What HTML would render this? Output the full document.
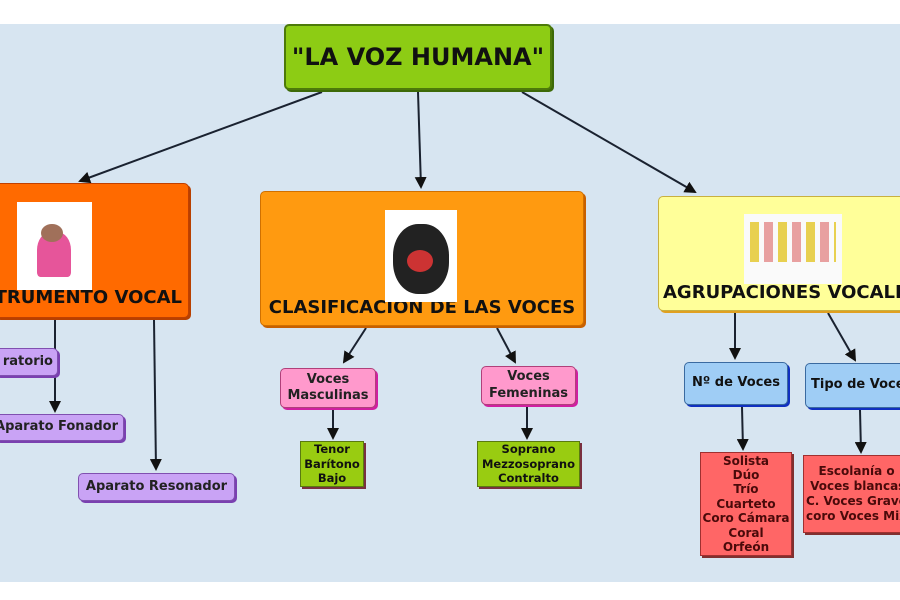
<!DOCTYPE html>
<html><head><meta charset="utf-8"><style>
body{margin:0;width:900px;height:600px;background:#fff;position:relative;overflow:hidden;font-family:"DejaVu Sans","Liberation Sans",sans-serif;font-weight:bold}
.bg{position:absolute;left:0;top:24px;width:900px;height:558px;background:#d7e5f1}
.b{position:absolute;box-sizing:border-box;border-radius:5px;text-align:center;display:flex;align-items:center;justify-content:center;line-height:1.25}
svg{position:absolute;left:0;top:0}
.img{position:absolute;background:#fff}
</style></head><body>
<div class="bg"></div>
<svg width="900" height="600">
<defs><marker id="a" markerWidth="6" markerHeight="6" refX="5" refY="3" orient="auto" markerUnits="strokeWidth"><path d="M0,0 L6,3 L0,6z" fill="#111"/></marker></defs>
<g stroke="#1a2230" stroke-width="2" fill="none" marker-end="url(#a)">
<line x1="322" y1="92" x2="80" y2="181"/>
<line x1="418" y1="92" x2="421" y2="187"/>
<line x1="522" y1="92" x2="695" y2="192"/>
<line x1="55" y1="320" x2="55" y2="411"/>
<line x1="154" y1="320" x2="156" y2="469"/>
<line x1="366" y1="328" x2="344" y2="362"/>
<line x1="497" y1="328" x2="515" y2="362"/>
<line x1="333" y1="410" x2="333" y2="438"/>
<line x1="527" y1="407" x2="527" y2="438"/>
<line x1="735" y1="313" x2="735" y2="358"/>
<line x1="828" y1="313" x2="855" y2="360"/>
<line x1="742" y1="407" x2="743" y2="449"/>
<line x1="860" y1="410" x2="861" y2="452"/>
</g>
</svg>
<div class="b" style="left:284px;top:24px;width:268px;height:66px;background:#8dcc14;border:2px solid #4d7a0a;font-size:24px;color:#111;box-shadow:2px 2px 0 #3d6a08">"LA VOZ HUMANA"</div>

<div class="b" style="left:-6px;top:183px;width:195px;height:135px;background:#ff6a00;border:1px solid #c04000;box-shadow:2px 2px 0 #b84000;align-items:flex-end;padding-bottom:8px;font-size:18px;color:#111;justify-content:flex-end;padding-right:6px;white-space:nowrap">TRUMENTO VOCAL</div>
<div class="img" style="left:17px;top:202px;width:75px;height:88px"><div style="position:absolute;left:20px;top:30px;width:34px;height:45px;background:#e6559a;border-radius:40% 40% 10% 10%"></div><div style="position:absolute;left:24px;top:22px;width:22px;height:18px;background:#a0705a;border-radius:50%"></div></div>

<div class="b" style="left:260px;top:191px;width:324px;height:135px;background:#ff9a10;border:1px solid #d07000;box-shadow:2px 2px 0 #c86000;align-items:flex-end;padding-bottom:6px;font-size:18px;color:#111;white-space:nowrap">CLASIFICACIÓN DE LAS VOCES</div>
<div class="img" style="left:385px;top:210px;width:72px;height:92px"><div style="position:absolute;left:8px;top:14px;width:56px;height:70px;background:#222;border-radius:45%"></div><div style="position:absolute;left:22px;top:40px;width:26px;height:22px;background:#c33;border-radius:50%"></div></div>

<div class="b" style="left:658px;top:196px;width:250px;height:115px;background:#ffff99;border:1px solid #c8b040;box-shadow:2px 2px 0 #e0a020;align-items:flex-end;padding-bottom:6px;font-size:18px;color:#111;justify-content:flex-start;padding-left:4px;white-space:nowrap">AGRUPACIONES VOCALE</div>
<div class="img" style="left:744px;top:214px;width:98px;height:70px;background:#fafafa"><div style="position:absolute;left:6px;top:8px;width:86px;height:40px;background:repeating-linear-gradient(90deg,#e8d050 0 9px,#fafafa 9px 14px,#e8a0a0 14px 23px,#fafafa 23px 28px)"></div></div>

<div class="b" style="left:-6px;top:348px;width:64px;height:28px;background:#c9a3f5;border:1px solid #8050b0;box-shadow:2px 2px 0 #7a40b0;font-size:13px;color:#222;justify-content:flex-end;padding-right:4px">ratorio</div>
<div class="b" style="left:-6px;top:414px;width:130px;height:27px;background:#c9a3f5;border:1px solid #8050b0;box-shadow:2px 2px 0 #7a40b0;font-size:13px;color:#222;justify-content:flex-end;padding-right:5px;white-space:nowrap">Aparato Fonador</div>
<div class="b" style="left:78px;top:473px;width:157px;height:28px;background:#c9a3f5;border:1px solid #8050b0;box-shadow:2px 2px 0 #7a40b0;font-size:13px;color:#222">Aparato Resonador</div>

<div class="b" style="left:280px;top:368px;width:96px;height:40px;background:#ff99cc;border:1px solid #b0407a;box-shadow:2px 2px 0 #d020a0;font-size:13px;color:#222">Voces<br>Masculinas</div>
<div class="b" style="left:481px;top:366px;width:95px;height:39px;background:#ff99cc;border:1px solid #b0407a;box-shadow:2px 2px 0 #d020a0;font-size:13px;color:#222">Voces<br>Femeninas</div>
<div class="b" style="left:300px;top:441px;width:64px;height:46px;background:#99cc11;border:1px solid #5a7a10;box-shadow:2px 2px 0 #7a3040;border-radius:0;font-size:11.5px;color:#111;line-height:1.3">Tenor<br>Barítono<br>Bajo</div>
<div class="b" style="left:477px;top:441px;width:103px;height:46px;background:#99cc11;border:1px solid #5a7a10;box-shadow:2px 2px 0 #7a3040;border-radius:0;font-size:11.5px;color:#111;line-height:1.3">Soprano<br>Mezzosoprano<br>Contralto</div>

<div class="b" style="left:684px;top:362px;width:104px;height:43px;background:#9fcdf5;border:1px solid #3a6aa0;box-shadow:2px 2px 0 #1030c0;font-size:13px;color:#111">Nº de Voces</div>
<div class="b" style="left:805px;top:363px;width:104px;height:45px;background:#9fcdf5;border:1px solid #3a6aa0;box-shadow:2px 2px 0 #1030c0;font-size:13px;color:#111;justify-content:flex-start;padding-left:5px;white-space:nowrap">Tipo de Voces</div>
<div class="b" style="left:700px;top:452px;width:92px;height:104px;background:#ff6666;border:1px solid #a03030;box-shadow:2px 2px 0 #803030;border-radius:0;font-size:12px;color:#4a0a0a;line-height:1.2">Solista<br>Dúo<br>Trío<br>Cuarteto<br>Coro Cámara<br>Coral<br>Orfeón</div>
<div class="b" style="left:803px;top:455px;width:105px;height:78px;background:#ff6666;border:1px solid #a03030;box-shadow:2px 2px 0 #803030;border-radius:0;font-size:12px;color:#4a0a0a;line-height:1.25;justify-content:flex-start;text-align:left;padding-left:2px;white-space:nowrap;overflow:hidden">&nbsp;&nbsp;&nbsp;Escolanía o<br>&nbsp;Voces blancas<br>C. Voces Graves<br>coro Voces Mixtas</div>
</body></html>
